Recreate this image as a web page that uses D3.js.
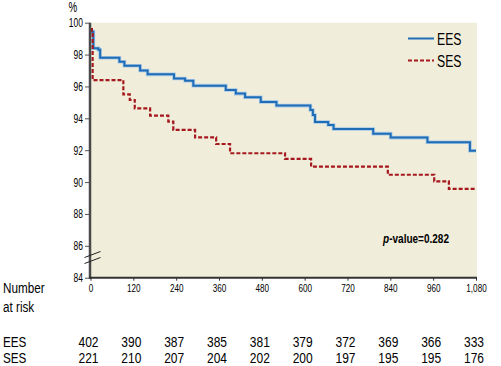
<!DOCTYPE html>
<html>
<head>
<meta charset="utf-8">
<script src="https://cdn.jsdelivr.net/npm/d3@7"></script>
<style>
  body { margin: 0; background: #fff; }
  svg text { font-family: "Liberation Sans", Arial, sans-serif; fill: #000; }
</style>
</head>
<body>
<svg id="main-svg" width="501" height="366"></svg>
<script>
// survival data (days, %)
let eesDays = [0, 8, 22, 27, 81, 95, 139, 160, 234, 265, 288, 379, 407, 433, 477, 521, 616, 623, 629, 666, 681, 792, 841, 944, 1063];
let eesSurv = [99.44, 98.4, 98.3, 97.8, 97.55, 97.3, 97.0, 96.76, 96.5, 96.36, 96.05, 95.78, 95.55, 95.32, 95.03, 94.8, 94.52, 94.21, 93.77, 93.58, 93.33, 93.04, 92.79, 92.5, 91.97];
let sesDays = [0, 4, 6, 92, 110, 124, 167, 218, 232, 293, 352, 391, 545, 618, 833, 963, 1004];
let sesSurv = [99.6, 99.4, 96.4, 95.5, 95.15, 94.63, 94.17, 93.79, 93.27, 92.8, 92.39, 91.81, 91.45, 90.97, 90.46, 90.05, 89.57];

let xTicks = [0, 120, 240, 360, 480, 600, 720, 840, 960, 1080];
let yTicks = [84, 86, 88, 90, 92, 94, 96, 98, 100];

// number at risk
let eesRisk = [402, 390, 387, 385, 381, 379, 372, 369, 366, 333];
let sesRisk = [221, 210, 207, 204, 202, 200, 197, 195, 195, 176];

let pValue = "0.282";

let plotLeft = 90.5, plotRight = 476, plotTop = 22.7, plotBottom = 277.7;
let svg = d3.select("#main-svg");

let x = d3.scaleLinear().domain([0, 1080]).range([plotLeft, plotRight]);
let y = d3.scaleLinear().domain([84, 100]).range([plotBottom, plotTop]);

// the original uses a condensed face: squeeze text horizontally
function addText(parent, px, py, str, size, sx, anchor) {
  return parent.append("text")
    .attr("transform", "translate(" + px + "," + py + ") scale(" + sx + ",1)")
    .attr("text-anchor", anchor || "start")
    .style("font-size", size + "px")
    .text(str);
}

// plot background
svg.append("rect")
  .attr("x", plotLeft).attr("y", plotTop)
  .attr("width", plotRight - plotLeft + 1).attr("height", plotBottom - plotTop)
  .attr("fill", "#f1eddb");

function toPoints(days, surv) {
  let pts = days.map((d, i) => ({ t: d, v: surv[i] }));
  pts.push({ t: 1080, v: surv[surv.length - 1] }); // carry to end of follow-up
  return pts;
}

let line = d3.line().curve(d3.curveStepAfter)
  .x(d => x(d.t)).y(d => y(d.v));

let ees = toPoints(eesDays, eesSurv);
let ses = toPoints(sesDays, sesSurv);

svg.append("path").attr("d", line(ees))
  .attr("fill", "none").attr("stroke", "#a9c9e6").attr("stroke-width", 3.6);
svg.append("path").attr("d", line(ees))
  .attr("fill", "none").attr("stroke", "#1f6db7").attr("stroke-width", 2);

svg.append("path").attr("d", line(ses))
  .attr("fill", "none").attr("stroke", "#a5181d").attr("stroke-width", 2.2)
  .attr("stroke-dasharray", "4,2");

// y axis
let ySx = 0.68;
let yAxis = d3.axisLeft(y).tickValues(yTicks).tickSize(5).tickPadding(2);
let gy = svg.append("g").attr("transform", "translate(" + (plotLeft - 0.5) + ",0)").call(yAxis);
gy.select(".domain").remove();
gy.selectAll(".tick line").attr("stroke", "#555");
gy.selectAll(".tick text")
  .style("font-size", "12.5px").attr("fill", "#000")
  .attr("x", -7 / ySx).attr("transform", "scale(" + ySx + ",1)");
svg.append("line")
  .attr("x1", plotLeft - 0.5).attr("x2", plotLeft - 0.5)
  .attr("y1", plotTop).attr("y2", plotBottom + 1)
  .attr("stroke", "#4a4a4a").attr("stroke-width", 2.5);

// axis break
[0, 6].forEach(function (off) {
  svg.append("line")
    .attr("x1", plotLeft - 6).attr("y1", 257.5 + off)
    .attr("x2", plotLeft + 10).attr("y2", 251.5 + off)
    .attr("stroke", "#222").attr("stroke-width", 1);
});

// x axis
let xAxis = d3.axisBottom(x).tickValues(xTicks).tickSize(3).tickPadding(3).tickFormat(d3.format(","));
let gx = svg.append("g").attr("transform", "translate(0," + plotBottom + ")").call(xAxis);
gx.select(".domain").remove();
gx.selectAll(".tick line").attr("stroke", "#333");
gx.selectAll(".tick text")
  .style("font-size", "11px").attr("fill", "#000")
  .attr("transform", "scale(0.74,1)");
svg.append("line")
  .attr("x1", plotLeft - 1.5).attr("x2", plotRight + 1)
  .attr("y1", plotBottom).attr("y2", plotBottom)
  .attr("stroke", "#333").attr("stroke-width", 2);

addText(svg, 68.5, 12, "%", 14, 0.7);

// legend
let legend = [
  { name: "EES", color: "#1f6db7", dash: null, y: 38.5 },
  { name: "SES", color: "#a5181d", dash: "4,2", y: 60.5 }
];
legend.forEach(function (l) {
  svg.append("line")
    .attr("x1", 408).attr("x2", 434).attr("y1", l.y).attr("y2", l.y)
    .attr("stroke", l.color).attr("stroke-width", 2)
    .attr("stroke-dasharray", l.dash);
  addText(svg, 437, l.y + 6, l.name, 16.5, 0.74);
});

// p-value
let pt = addText(svg, 449, 243, null, 13, 0.77, "end").style("font-weight", "bold");
pt.append("tspan").style("font-style", "italic").text("p");
pt.append("tspan").text("-value=" + pValue);

// number at risk table
let tSx = 0.78;
addText(svg, 3, 293, "Number", 15, tSx);
addText(svg, 3, 312, "at risk", 15, tSx);

let rows = [
  { name: "EES", vals: eesRisk, y: 347 },
  { name: "SES", vals: sesRisk, y: 363 }
];
rows.forEach(function (r) {
  addText(svg, 3, r.y, r.name, 15, tSx);
  let g = svg.append("g");
  r.vals.forEach(function (d, i) {
    addText(g, x(xTicks[i]) - 2, r.y, d, 15, 0.8, "middle");
  });
});
</script>
</body>
</html>
